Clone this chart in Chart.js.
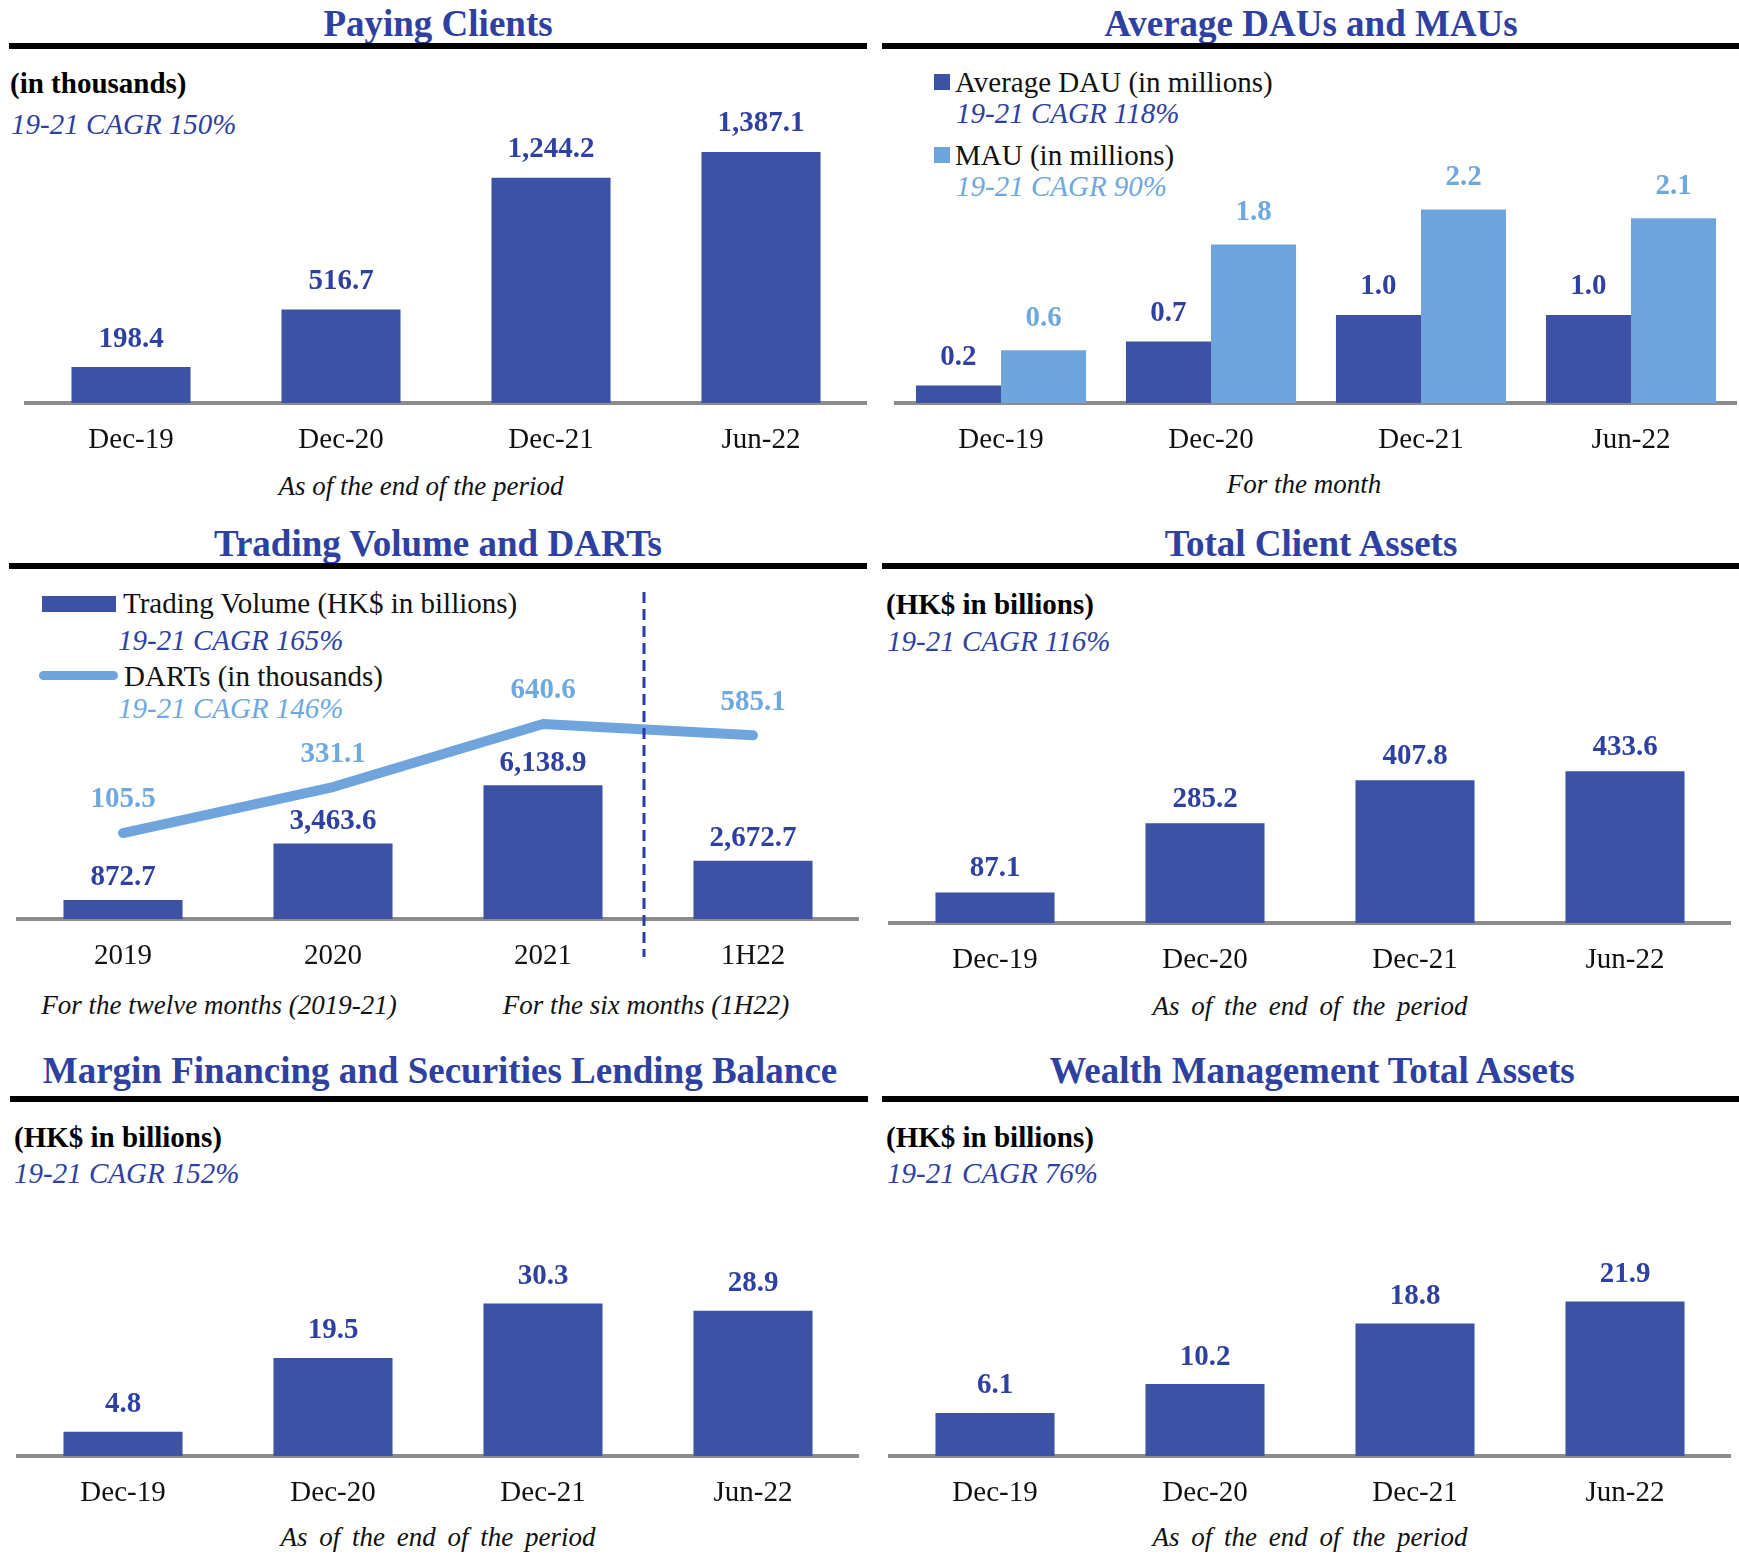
<!DOCTYPE html>
<html>
<head>
<meta charset="utf-8">
<script src="https://cdn.jsdelivr.net/npm/chart.js@4.4.1/dist/chart.umd.min.js"></script>
<style>
  html, body { margin:0; padding:0; background:#ffffff; }
  #page { position:relative; width:1739px; height:1555px; overflow:hidden; background:#fff; font-family:"Liberation Serif","Times New Roman",serif; }
  canvas { position:absolute; }
  .t { position:absolute; white-space:nowrap; }
</style>
</head>
<body>
<div id="page"></div>
<script>
// ---------------- DATA ----------------
const dateCategories = ['Dec-19', 'Dec-20', 'Dec-21', 'Jun-22'];
const tradingCategories = ['2019', '2020', '2021', '1H22'];

const payingClients = [198.4, 516.7, 1244.2, 1387.1];
const averageDAU = [0.2, 0.7, 1.0, 1.0];
const monthlyMAU = [0.6, 1.8, 2.2, 2.1];
const tradingVolume = [872.7, 3463.6, 6138.9, 2672.7];
const dartsValues = [105.5, 331.1, 640.6, 585.1];
const totalClientAssets = [87.1, 285.2, 407.8, 433.6];
const marginBalance = [4.8, 19.5, 30.3, 28.9];
const wealthAssets = [6.1, 10.2, 18.8, 21.9];

const panelTitles = ['Paying Clients', 'Average DAUs and MAUs', 'Trading Volume and DARTs',
  'Total Client Assets', 'Margin Financing and Securities Lending Balance', 'Wealth Management Total Assets'];
const seriesNames = ['Average DAU (in millions)', 'MAU (in millions)',
  'Trading Volume (HK$ in billions)', 'DARTs (in thousands)'];
const unitNotes = ['(in thousands)', '(HK$ in billions)'];
const cagrNotes = ['19-21 CAGR 150%', '19-21 CAGR 118%', '19-21 CAGR 90%', '19-21 CAGR 165%',
  '19-21 CAGR 146%', '19-21 CAGR 116%', '19-21 CAGR 152%', '19-21 CAGR 76%'];
const captions = ['As of the end of the period', 'For the month',
  'For the twelve months (2019-21)', 'For the six months (1H22)'];

// ---------------- STYLE ----------------
const DARK = '#3d52a5';
const LIGHT = '#6fa5dc';
const TEXTBLUE = '#2e41a0';
const LIGHTTEXT = '#6ea8de';
const AXIS = '#8c8c8c';
const FONT = '"Liberation Serif", "Times New Roman", serif';

Chart.defaults.font.family = FONT;
const page = document.getElementById('page');

function addText(txt, o) {
  const d = document.createElement('div');
  d.className = 't';
  d.textContent = txt;
  const size = o.size || 29;
  d.style.fontSize = size + 'px';
  d.style.lineHeight = size + 'px';
  d.style.height = size + 'px';
  d.style.top = (o.cy - size / 2) + 'px';
  d.style.fontWeight = o.bold ? 'bold' : 'normal';
  d.style.fontStyle = o.italic ? 'italic' : 'normal';
  d.style.color = o.color || '#111';
  if (o.ws) d.style.wordSpacing = o.ws + 'px';
  if (o.cx !== undefined) { d.style.left = o.cx + 'px'; d.style.transform = 'translateX(-50%)'; }
  else d.style.left = o.left + 'px';
  page.appendChild(d);
}
function addBox(x, y, w, h, color, radius) {
  const d = document.createElement('div');
  d.style.position = 'absolute';
  d.style.left = x + 'px'; d.style.top = y + 'px';
  d.style.width = w + 'px'; d.style.height = h + 'px';
  d.style.background = color;
  if (radius) d.style.borderRadius = radius + 'px';
  page.appendChild(d);
}

const fmt = v => v.toLocaleString('en-US', {minimumFractionDigits: 1, maximumFractionDigits: 1});

function labelPlugin(cfg) {
  return {
    id: 'valueLabels',
    afterDatasetsDraw(chart) {
      const ctx = chart.ctx;
      if (cfg.dashed) {
        const xs = chart.scales.x;
        const x = (xs.getPixelForValue(2) + xs.getPixelForValue(3)) / 2 - 4;
        ctx.save();
        ctx.strokeStyle = '#2a3ca8';
        ctx.lineWidth = 3;
        ctx.setLineDash([11, 6]);
        ctx.beginPath();
        ctx.moveTo(x, chart.chartArea.top + 17);
        ctx.lineTo(x, chart.chartArea.bottom + 38);
        ctx.stroke();
        ctx.restore();
      }
      ctx.save();
      ctx.font = 'bold 29px ' + FONT;
      ctx.textAlign = 'center';
      ctx.textBaseline = 'middle';
      chart.data.datasets.forEach((ds, i) => {
        const meta = chart.getDatasetMeta(i);
        ctx.fillStyle = cfg.colors[i];
        meta.data.forEach((el, j) => {
          ctx.fillText(fmt(ds.data[j]), el.x, el.y - cfg.offsets[i]);
        });
      });
      ctx.restore();
    }
  };
}

function makeChart(box, labels, datasets, scalesY, pad, cfg) {
  const c = document.createElement('canvas');
  c.width = box.w; c.height = box.h;
  c.style.left = box.x + 'px'; c.style.top = box.y + 'px';
  c.style.width = box.w + 'px'; c.style.height = box.h + 'px';
  page.appendChild(c);
  const scales = Object.assign({
    x: {
      type: 'category', offset: true,
      grid: { display: false, drawTicks: false },
      border: { display: true, color: AXIS, width: 4 },
      ticks: { color: '#111', padding: 20, maxRotation: 0, autoSkip: false,
               font: { family: FONT, size: 29, lineHeight: '34px' } }
    }
  }, scalesY);
  return new Chart(c, {
    type: 'bar',
    data: { labels, datasets },
    options: {
      responsive: false, animation: false, devicePixelRatio: 1,
      layout: { padding: pad, autoPadding: false },
      plugins: { legend: { display: false }, tooltip: { enabled: false }, title: { display: false } },
      scales
    },
    plugins: [labelPlugin(cfg)]
  });
}

function yScale(max, min) {
  return { display: false, min: min || 0, max: max, grid: { display: false } };
}
function barDs(data, color, extra) {
  return Object.assign({ data, backgroundColor: color, borderWidth: 0,
    barPercentage: 0.567, categoryPercentage: 1.0, order: 1 }, extra || {});
}

// ---------------- PANEL FRAMES ----------------
const titleY = [23, 543, 1070];
addText(panelTitles[0], { cx: 438, cy: titleY[0], size: 37, bold: true, color: TEXTBLUE });
addText(panelTitles[1], { cx: 1311, cy: titleY[0], size: 37, bold: true, color: TEXTBLUE });
addText(panelTitles[2], { cx: 438, cy: titleY[1], size: 37, bold: true, color: TEXTBLUE });
addText(panelTitles[3], { cx: 1311, cy: titleY[1], size: 37, bold: true, color: TEXTBLUE });
addText(panelTitles[4], { cx: 440, cy: titleY[2], size: 37, bold: true, color: TEXTBLUE });
addText(panelTitles[5], { cx: 1312, cy: titleY[2], size: 37, bold: true, color: TEXTBLUE });

addBox(9, 43, 858, 6, '#000');
addBox(882, 43, 857, 6, '#000');
addBox(9, 563, 858, 6, '#000');
addBox(882, 563, 857, 6, '#000');
addBox(10, 1096, 858, 6, '#000');
addBox(882, 1096, 857, 6, '#000');

// Panel 1 notes
addText(unitNotes[0], { left: 10, cy: 83, size: 29, bold: true, color: '#000' });
addText(cagrNotes[0], { left: 11, cy: 124, size: 29, italic: true, color: TEXTBLUE });
// Panel 2 legend
addBox(934, 74, 16, 16, DARK);
addText(seriesNames[0], { left: 955, cy: 82, size: 29, color: '#111' });
addText(cagrNotes[1], { left: 956, cy: 113, size: 29, italic: true, color: TEXTBLUE });
addBox(934, 147, 16, 16, LIGHT);
addText(seriesNames[1], { left: 955, cy: 155, size: 29, color: '#111' });
addText(cagrNotes[2], { left: 956, cy: 186, size: 29, italic: true, color: LIGHTTEXT });
// Panel 3 legend
addBox(42, 596, 74, 16, DARK);
addText(seriesNames[2], { left: 123, cy: 603, size: 29, color: '#111' });
addText(cagrNotes[3], { left: 118, cy: 640, size: 29, italic: true, color: TEXTBLUE });
addBox(39, 671, 79, 9, LIGHT, 5);
addText(seriesNames[3], { left: 124, cy: 676, size: 29, color: '#111' });
addText(cagrNotes[4], { left: 118, cy: 708, size: 29, italic: true, color: LIGHTTEXT });
// Panel 4 notes
addText(unitNotes[1], { left: 886, cy: 604, size: 29, bold: true, color: '#000' });
addText(cagrNotes[5], { left: 887, cy: 641, size: 29, italic: true, color: TEXTBLUE });
// Panel 5 notes
addText(unitNotes[1], { left: 14, cy: 1137, size: 29, bold: true, color: '#000' });
addText(cagrNotes[6], { left: 14, cy: 1173, size: 29, italic: true, color: TEXTBLUE });
// Panel 6 notes
addText(unitNotes[1], { left: 886, cy: 1137, size: 29, bold: true, color: '#000' });
addText(cagrNotes[7], { left: 887, cy: 1173, size: 29, italic: true, color: TEXTBLUE });

// Captions
addText(captions[0], { cx: 421, cy: 486, size: 27, italic: true, color: '#111' });
addText(captions[1], { cx: 1304, cy: 484, size: 27, italic: true, color: '#111' });
addText(captions[2], { cx: 219, cy: 1005, size: 27, italic: true, color: '#111' });
addText(captions[3], { cx: 646, cy: 1005, size: 27, italic: true, color: '#111' });
addText(captions[0], { cx: 1310, cy: 1006, size: 27, italic: true, color: '#111', ws: 5 });
addText(captions[0], { cx: 438, cy: 1537, size: 27, italic: true, color: '#111', ws: 5 });
addText(captions[0], { cx: 1310, cy: 1537, size: 27, italic: true, color: '#111', ws: 5 });

// ---------------- CHARTS ----------------
// 1. Paying Clients
makeChart({ x: 0, y: 55, w: 870, h: 422 }, dateCategories,
  [barDs(payingClients, DARK)],
  { y: yScale(1922.7) }, { left: 26, right: 4, top: 0, bottom: 0 },
  { offsets: [28], colors: [TEXTBLUE] });

// 2. DAU / MAU
makeChart({ x: 870, y: 55, w: 869, h: 422 }, dateCategories,
  [barDs(averageDAU, DARK, { label: seriesNames[0], barPercentage: 1.0, categoryPercentage: 0.81 }),
   barDs(monthlyMAU, LIGHT, { label: seriesNames[1], barPercentage: 1.0, categoryPercentage: 0.81 })],
  { y: yScale(3.955) }, { left: 26, right: 3, top: 0, bottom: 0 },
  { offsets: [28, 32], colors: [TEXTBLUE, LIGHTTEXT] });

// 3. Trading volume and DARTs
makeChart({ x: 0, y: 575, w: 870, h: 418 }, tradingCategories,
  [barDs(tradingVolume, DARK, { label: seriesNames[2], yAxisID: 'y' }),
   { type: 'line', label: seriesNames[3], data: dartsValues, yAxisID: 'y1', order: 0,
     borderColor: LIGHT, borderWidth: 10, pointRadius: 0, tension: 0,
     borderCapStyle: 'round', borderJoinStyle: 'round', fill: false }],
  { y: yScale(15780), y1: yScale(1372.1, -316.6) }, { left: 18, right: 12, top: 0, bottom: 0 },
  { offsets: [22, 33], colors: [TEXTBLUE, LIGHTTEXT], dashed: true });

// 4. Total client assets
makeChart({ x: 870, y: 575, w: 869, h: 422 }, dateCategories,
  [barDs(totalClientAssets, DARK)],
  { y: yScale(994.3) }, { left: 20, right: 9, top: 0, bottom: 0 },
  { offsets: [24], colors: [TEXTBLUE] });

// 5. Margin financing
makeChart({ x: 0, y: 1110, w: 870, h: 420 }, dateCategories,
  [barDs(marginBalance, DARK)],
  { y: yScale(68.79) }, { left: 18, right: 12, top: 0, bottom: 0 },
  { offsets: [27], colors: [TEXTBLUE] });

// 6. Wealth management
makeChart({ x: 870, y: 1110, w: 869, h: 420 }, dateCategories,
  [barDs(wealthAssets, DARK)],
  { y: yScale(49.08) }, { left: 20, right: 9, top: 0, bottom: 0 },
  { offsets: [27], colors: [TEXTBLUE] });
</script>
</body>
</html>
